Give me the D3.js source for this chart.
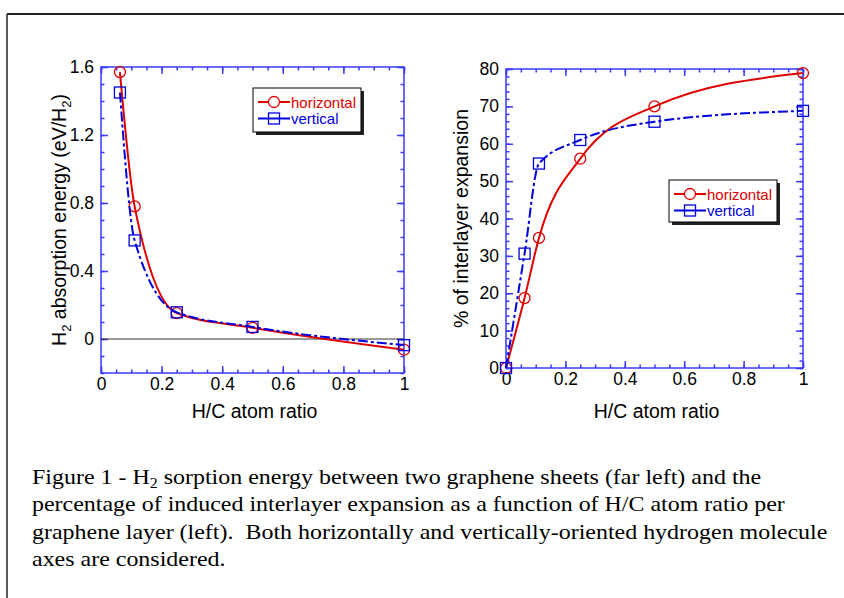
<!DOCTYPE html>
<meta charset="utf-8">
<style>
body { margin: 0; background: #fff; }
text { font-family: "Liberation Sans", Arial, sans-serif; }
.frame { fill: none; stroke: #3a3aff; stroke-width: 1.5px; }
.tick line { stroke: #3a3aff; stroke-width: 1.5px; }
.domain { display: none; }
.caption { font-family: "Liberation Serif", "Times New Roman", serif; font-size: 21px; white-space: pre; }
</style>
<svg width="844" height="598"></svg>
<script src="https://cdn.jsdelivr.net/npm/d3@7"></script>
<script>

// data
var energyRatio = [0.0625, 0.111, 0.25, 0.5, 1.0];
var energyHorizontal = [1.57, 0.78, 0.152, 0.066, -0.063];
var energyVertical = [1.45, 0.58, 0.157, 0.071, -0.036];

var expRatio = [0, 0.0625, 0.111, 0.25, 0.5, 1.0];
var expHorizontal = [0, 18.7, 34.8, 56.0, 70.0, 78.9];
var expVertical = [0, 30.6, 54.7, 61.0, 65.9, 68.8];

var xTicks = [0, 0.2, 0.4, 0.6, 0.8, 1];
var energyTicks = [0, 0.4, 0.8, 1.2, 1.6];
var expTicks = [0, 10, 20, 30, 40, 50, 60, 70, 80];
var seriesNames = ["horizontal", "vertical"];
var seriesColors = ["#e00000", "#0000dd"];

var captionLines = [
    ["Figure 1 - H", "2", " sorption energy between two graphene sheets (far left) and the"],
    ["percentage of induced interlayer expansion as a function of H/C atom ratio per"],
    ["graphene layer (left).  Both horizontally and vertically-oriented hydrogen molecule"],
    ["axes are considered."]
];

var svg = d3.select("svg");

// outer page frame
svg.append("line").attr("x1", 7).attr("x2", 844).attr("y1", 14).attr("y2", 14)
    .attr("stroke", "#222").attr("stroke-width", 2);
svg.append("line").attr("x1", 7).attr("x2", 7).attr("y1", 14).attr("y2", 598)
    .attr("stroke", "#222").attr("stroke-width", 1.5);

function fmt(d) {
    return d === 0 ? "0" : (d === 1 ? "1" : d3.format(".1f")(d));
}

function panel(cfg) {
    var x = d3.scaleLinear().domain([0, 1]).range(cfg.xr);
    var y = d3.scaleLinear().domain(cfg.yDomain).range(cfg.yr);
    var g = svg.append("g");

    var xMinor = x.ticks(20), yMinor = d3.range(cfg.yDomain[0], cfg.yDomain[1] + 1e-9, cfg.yMinorStep);

    // minor ticks all sides
    g.append("g").attr("transform", "translate(0," + cfg.yr[0] + ")")
        .call(d3.axisBottom(x).tickValues(xMinor).tickSize(-3.5).tickFormat(""));
    g.append("g").attr("transform", "translate(0," + cfg.yr[1] + ")")
        .call(d3.axisTop(x).tickValues(xMinor).tickSize(-3.5).tickFormat(""));
    g.append("g").attr("transform", "translate(" + cfg.xr[0] + ",0)")
        .call(d3.axisLeft(y).tickValues(yMinor).tickSize(-3.5).tickFormat(""));
    g.append("g").attr("transform", "translate(" + cfg.xr[1] + ",0)")
        .call(d3.axisRight(y).tickValues(yMinor).tickSize(-3.5).tickFormat(""));

    // major ticks
    g.append("g").attr("transform", "translate(0," + cfg.yr[0] + ")")
        .call(d3.axisBottom(x).tickValues(xTicks).tickSize(-7).tickPadding(5).tickFormat(fmt));
    g.append("g").attr("transform", "translate(0," + cfg.yr[1] + ")")
        .call(d3.axisTop(x).tickValues(xTicks).tickSize(-7).tickFormat(""));
    g.append("g").attr("transform", "translate(" + cfg.xr[0] + ",0)")
        .call(d3.axisLeft(y).tickValues(cfg.yTicks).tickSize(-7).tickPadding(7).tickFormat(cfg.yFormat));
    g.append("g").attr("transform", "translate(" + cfg.xr[1] + ",0)")
        .call(d3.axisRight(y).tickValues(cfg.yTicks).tickSize(-7).tickFormat(""));

    g.selectAll(".tick text").attr("font-size", 17.5).attr("fill", "#000")
        .attr("font-family", "Liberation Sans, Arial, sans-serif");

    g.append("rect").attr("class", "frame")
        .attr("x", cfg.xr[0]).attr("y", cfg.yr[1])
        .attr("width", cfg.xr[1] - cfg.xr[0]).attr("height", cfg.yr[0] - cfg.yr[1]);

    if (cfg.zeroLine) {
        g.append("line").attr("x1", cfg.xr[0]).attr("x2", cfg.xr[1])
            .attr("y1", y(0)).attr("y2", y(0)).attr("stroke", "#333").attr("stroke-width", 1);
    }

    var line = d3.line().curve(d3.curveMonotoneX)
        .x(function(d) { return x(d[0]); })
        .y(function(d) { return y(d[1]); });

    [cfg.h, cfg.v].forEach(function(vals, si) {
        var pts = cfg.ratio.map(function(r, i) { return [r, vals[i]]; });
        g.append("path").datum(pts).attr("d", line)
            .attr("fill", "none").attr("stroke", seriesColors[si]).attr("stroke-width", 2)
            .attr("stroke-dasharray", si === 1 ? "10,3,3,3" : null);
        if (si === 0) {
            g.selectAll(null).data(pts).enter().append("circle")
                .attr("cx", function(d) { return x(d[0]); })
                .attr("cy", function(d) { return y(d[1]); })
                .attr("r", 5.5).attr("fill", "none").attr("stroke", seriesColors[0]).attr("stroke-width", 1.3);
        } else {
            g.selectAll(null).data(pts).enter().append("rect")
                .attr("x", function(d) { return x(d[0]) - 5.5; })
                .attr("y", function(d) { return y(d[1]) - 5.5; })
                .attr("width", 11).attr("height", 11)
                .attr("fill", "none").attr("stroke", seriesColors[1]).attr("stroke-width", 1.3);
        }
    });

    // axis titles
    g.append("text").attr("x", (cfg.xr[0] + cfg.xr[1]) / 2 + 2).attr("y", 418)
        .attr("text-anchor", "middle").attr("font-size", 19.5).text("H/C atom ratio");

    var yt = g.append("text").attr("text-anchor", "middle").attr("font-size", 19.5)
        .attr("transform", "translate(" + cfg.yTitleX + "," + ((cfg.yr[0] + cfg.yr[1]) / 2) + ") rotate(-90)");
    cfg.yTitle.forEach(function(p) {
        var t = yt.append("tspan").text(p[0]);
        if (p[1]) t.attr("font-size", 13).attr("dy", 5);
        else if (p[2]) t.attr("dy", -5);
    });

    // legend
    var L = cfg.legend;
    g.append("rect").attr("x", L.x + 3).attr("y", L.y + 3).attr("width", L.w).attr("height", L.h).attr("fill", "#222");
    g.append("rect").attr("x", L.x).attr("y", L.y).attr("width", L.w).attr("height", L.h)
        .attr("fill", "#fff").attr("stroke", "#000").attr("stroke-width", 1);
    seriesNames.forEach(function(name, si) {
        var cy = L.y + 14 + si * 16.5, x0 = L.x + 5, x1 = L.x + 37, cx = (x0 + x1) / 2;
        g.append("line").attr("x1", x0).attr("x2", x1).attr("y1", cy).attr("y2", cy)
            .attr("stroke", seriesColors[si]).attr("stroke-width", 2);
        if (si === 0) {
            g.append("circle").attr("cx", cx).attr("cy", cy).attr("r", 5.5)
                .attr("fill", "#fff").attr("stroke", seriesColors[0]).attr("stroke-width", 1.3);
        } else {
            g.append("rect").attr("x", cx - 5.5).attr("y", cy - 5.5).attr("width", 11).attr("height", 11)
                .attr("fill", "none").attr("stroke", seriesColors[1]).attr("stroke-width", 1.3);
        }
        g.append("text").attr("x", x1 + 1).attr("y", cy + 5.5).attr("font-size", 15)
            .attr("fill", seriesColors[si]).text(name);
    });
}

panel({
    xr: [101, 404], yr: [373, 67], yDomain: [-0.2, 1.6], yMinorStep: 0.1,
    yTicks: energyTicks, yFormat: function(d) { return d === 0 ? "0" : d3.format(".1f")(d); },
    ratio: energyRatio, h: energyHorizontal, v: energyVertical, zeroLine: true,
    yTitleX: 66,
    yTitle: [["H"], ["2", true], [" absorption energy (eV/H", false, true], ["2", true], [")", false, true]],
    legend: {x: 253, y: 88, w: 108, h: 44}
});

panel({
    xr: [506, 803], yr: [368, 69], yDomain: [0, 80], yMinorStep: 2,
    yTicks: expTicks, yFormat: d3.format("d"),
    ratio: expRatio, h: expHorizontal, v: expVertical, zeroLine: false,
    yTitleX: 468,
    yTitle: [["% of interlayer expansion"]],
    legend: {x: 669, y: 180, w: 108, h: 42}
});

// caption, stretched horizontally so the third line ends where the reference does
var cap = svg.append("g");
var capTexts = [];
captionLines.forEach(function(parts, i) {
    var t = cap.append("text").attr("class", "caption").attr("x", 0).attr("y", 484 + i * 27.3);
    parts.forEach(function(p, j) {
        var s = t.append("tspan").text(p);
        if (parts.length > 1 && j === 1) s.attr("font-size", 14).attr("dy", 4);
        if (parts.length > 1 && j === 2) s.attr("dy", -4);
    });
    capTexts.push(t);
});
var w3 = capTexts[2].node().getComputedTextLength();
var sx = 796 / w3;
cap.attr("transform", "translate(32,0) scale(" + sx + ",1)");

</script>
